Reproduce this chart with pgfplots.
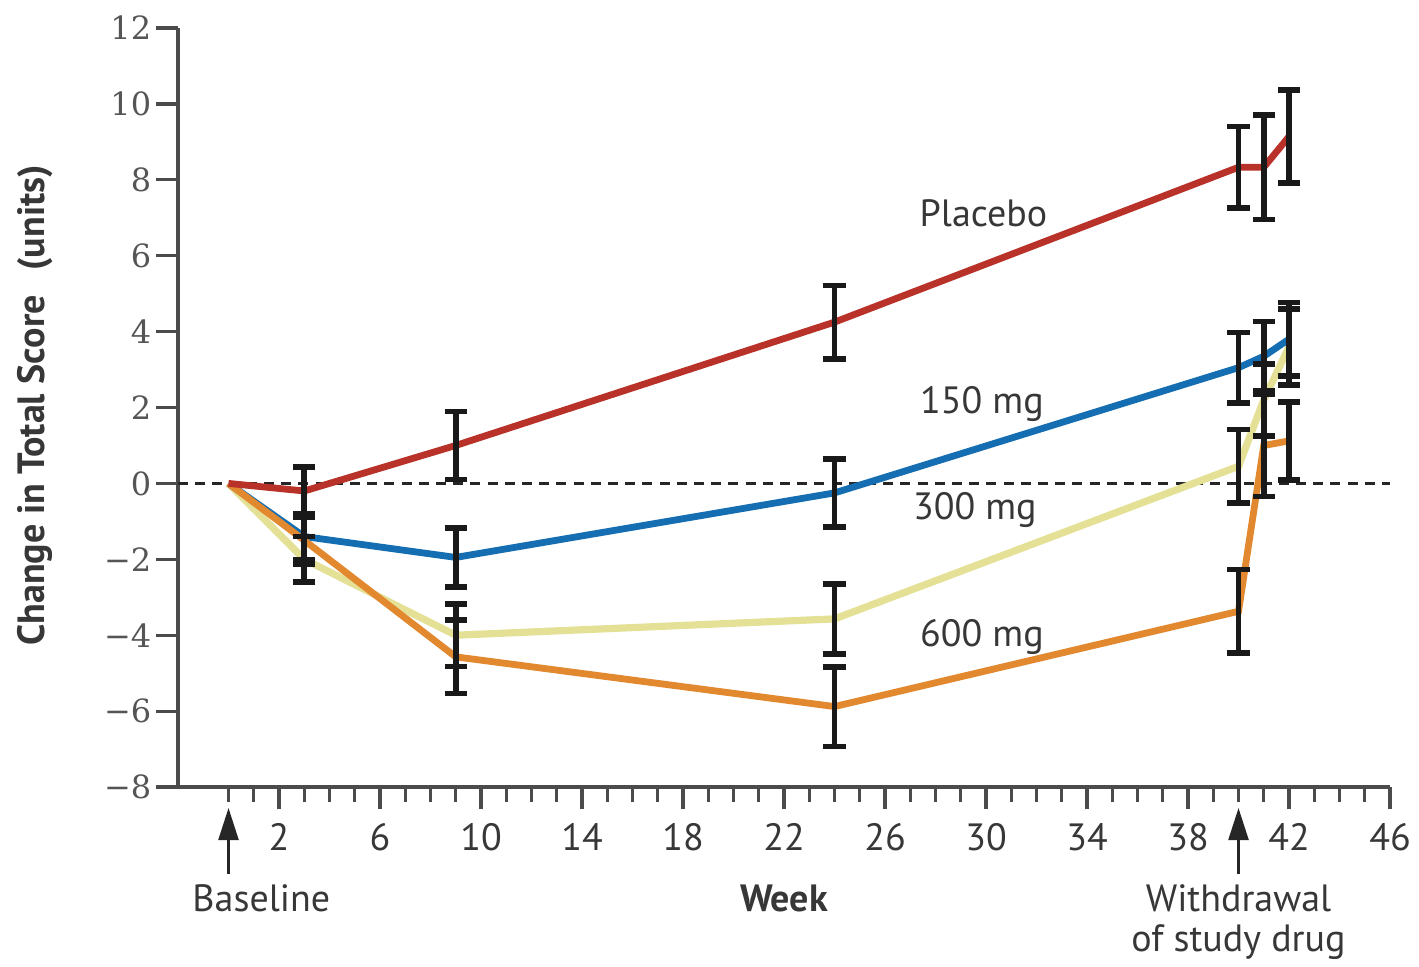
\documentclass[border=0pt]{standalone}
\usepackage{fontspec}
\setmainfont{PT Sans}
\newfontfamily\serifnum{DejaVu Serif}
\usepackage{pgfplots}
\usepackage{pgfplotstable}
\pgfplotsset{compat=1.18}
\usetikzlibrary{arrows.meta}
\definecolor{cred}{RGB}{185,50,42}
\definecolor{cblue}{RGB}{22,110,178}
\definecolor{cyel}{RGB}{228,224,150}
\definecolor{corange}{RGB}{226,136,46}
\definecolor{ctext}{RGB}{55,55,55}
\definecolor{caxis}{RGB}{75,75,75}

\pgfplotstableread{
x y e
0 0 0
3 -0.2 0.64
9 1.0 0.90
24 4.25 0.97
40 8.33 1.07
41 8.33 1.38
42 9.14 1.23
}\pplac
\pgfplotstableread{
x y e
0 0 0
3 -1.4 0.60
9 -1.95 0.78
24 -0.25 0.90
40 3.05 0.93
41 3.35 0.92
42 3.8 0.97
}\pone
\pgfplotstableread{
x y e
0 0 0
3 -2.0 0.60
9 -4.0 0.82
24 -3.57 0.92
40 0.45 0.97
41 2.2 0.95
42 3.6 1.0
}\pthree
\pgfplotstableread{
x y e
0 0 0
3 -1.5 0.62
9 -4.57 0.97
24 -5.88 1.05
40 -3.37 1.10
41 1.0 1.34
42 1.12 1.03
}\psix

\pgfplotsset{ebar/.style={draw=none, mark=none, forget plot,
  skip coords between index={0}{1},
  error bars/.cd, y dir=both, y explicit,
  error bar style={draw=black!90, line width=1.4pt, solid},
  error mark options={rotate=90, draw=black!90, line width=1.4pt, mark size=2.8pt}}}

\begin{document}
\begin{tikzpicture}
\begin{axis}[name=ax, scale only axis, width=303pt, height=189.75pt,
  xmin=-2, xmax=46, ymin=-8, ymax=12,
  axis x line*=bottom, axis y line*=left,
  axis line style={caxis, line width=0.8pt},
  xtick={2,6,10,14,18,22,26,30,34,38,42,46},
  xticklabels={2,6,10,14,18,22,26,30,34,38,42,46},
  minor xtick={0,1,...,46},
  ytick={-8,-6,-4,-2,0,2,4,6,8,10,12},
  yticklabels={−8,−6,−4,−2,0,2,4,6,8,10,12},
  tick align=outside,
  major tick length=5.5pt, minor tick length=3.8pt,
  every tick/.style={caxis, line width=0.8pt},
  xticklabel style={font=\fontsize{9.5}{11}\selectfont, text=ctext},
  yticklabel style={font=\serifnum\fontsize{8}{10}\selectfont, text=ctext!85, inner sep=1pt},
  clip=false,
]
\addplot[black!85, line width=0.6pt, dash pattern=on 2.5pt off 1.8pt, forget plot] coordinates {(-2,0) (46,0)};
\addplot[cyel, line width=1.8pt] table[x=x,y=y]{\pthree};
\addplot[cblue, line width=1.7pt] table[x=x,y=y]{\pone};
\addplot[corange, line width=1.7pt] table[x=x,y=y]{\psix};
\addplot[cred, line width=1.7pt] table[x=x,y=y]{\pplac};
\addplot[ebar] table[x=x,y=y,y error=e]{\pthree};
\addplot[ebar] table[x=x,y=y,y error=e]{\pone};
\addplot[ebar] table[x=x,y=y,y error=e]{\psix};
\addplot[ebar] table[x=x,y=y,y error=e]{\pplac};

\node[anchor=base, text=ctext, font=\fontsize{9.5}{11}\selectfont] at (axis cs:29.9,6.76) {Placebo};
\node[anchor=base, text=ctext, font=\fontsize{9.5}{11}\selectfont] at (axis cs:29.84,1.85) {150 mg};
\node[anchor=base, text=ctext, font=\fontsize{9.5}{11}\selectfont] at (axis cs:29.56,-0.96) {300 mg};
\node[anchor=base, text=ctext, font=\fontsize{9.5}{11}\selectfont] at (axis cs:29.84,-4.30) {600 mg};

\draw[black!85, line width=0.6pt, -{Triangle[length=8pt,width=5pt]}] ([yshift=-21.75pt]axis cs:0,-8) -- ([yshift=-5.25pt]axis cs:0,-8);
\draw[black!85, line width=0.6pt, -{Triangle[length=8pt,width=5pt]}] ([yshift=-21.75pt]axis cs:40,-8) -- ([yshift=-5.25pt]axis cs:40,-8);
\node[anchor=base, text=ctext, font=\fontsize{9.5}{11}\selectfont] at ([yshift=-31.2pt]axis cs:1.3,-8) {Baseline};
\node[anchor=base, text=ctext, font=\bfseries\fontsize{9.5}{11}\selectfont] at ([yshift=-31.2pt]axis cs:22,-8) {Week};
\node[anchor=base, text=ctext, font=\fontsize{9.5}{11}\selectfont] at ([yshift=-31.2pt]axis cs:40,-8) {Withdrawal};
\node[anchor=base, text=ctext, font=\fontsize{9.5}{11}\selectfont] at ([yshift=-41.2pt]axis cs:40,-8) {of study drug};
\node[rotate=90, anchor=center, text=ctext, font=\bfseries\fontsize{9.5}{11}\selectfont] at ([xshift=-35.75pt]rel axis cs:0,0.503) {Change in Total Score\hspace{0.4em} (units)};
\end{axis}
\pgfresetboundingbox
\path[use as bounding box] ([shift={(-44.5pt,-44.75pt)}]ax.south west) rectangle ([shift={(7.25pt,7pt)}]ax.north east);
\end{tikzpicture}
\end{document}
